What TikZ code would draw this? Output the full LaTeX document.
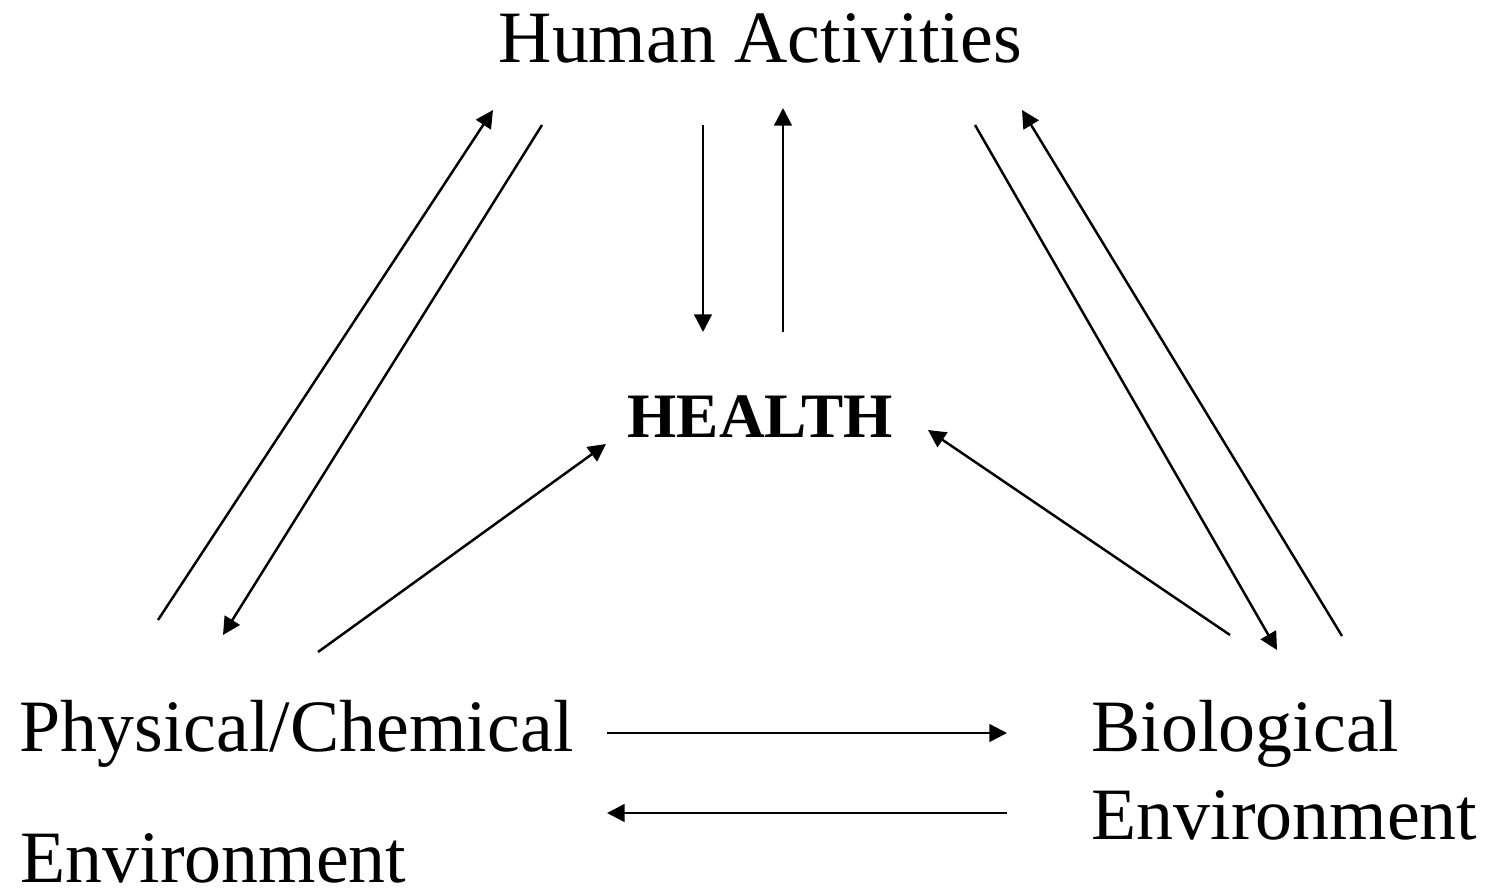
\documentclass[tikz,border=0pt]{standalone}
\usepackage{fontspec}
\setmainfont{Liberation Serif}
\usetikzlibrary{arrows.meta}

\begin{document}
\begin{tikzpicture}[x=0.01cm, y=-0.01cm, >={Triangle[length=5pt,width=5pt]},
  word/.style={anchor=base west, inner sep=0pt, font=\fontsize{21}{25}\selectfont},
  flow/.style={->, line width=0.7pt}]
\useasboundingbox (0,0) rectangle (1488,891);

\node[word] (human) at (498,63) {Human Activities};
\node[word, font=\fontsize{18}{21}\selectfont\bfseries] (health) at (627,437) {HEALTH};
\node[word] (physical) at (19,751) {Physical/Chemical};
\node[word] (physenv) at (20,882) {Environment};
\node[word] (biological) at (1091,751) {Biological};
\node[word] (bioenv) at (1091,839) {Environment};

% ends of the arrows
\coordinate (pa) at (158,620);  \coordinate (ha) at (493,110);
\coordinate (hb) at (542,125);  \coordinate (pb) at (223,635);
\coordinate (hc) at (703,125);  \coordinate (ec) at (703,332);
\coordinate (ed) at (783,332);  \coordinate (hd) at (783,108);
\coordinate (pe) at (318,652);  \coordinate (ee) at (606,444);
\coordinate (bf) at (1230,635); \coordinate (ef) at (928,430);
\coordinate (hg) at (975,125);  \coordinate (bg) at (1277,650);
\coordinate (bh) at (1342,636); \coordinate (hh) at (1022,110);
\coordinate (pi) at (607,733);  \coordinate (bi) at (1007,733);
\coordinate (bj) at (1007,813); \coordinate (pj) at (607,813);

\draw[flow] (pa) -- (ha);
\draw[flow] (hb) -- (pb);
\draw[flow] (hc) -- (ec);
\draw[flow] (ed) -- (hd);
\draw[flow] (pe) -- (ee);
\draw[flow] (bf) -- (ef);
\draw[flow] (hg) -- (bg);
\draw[flow] (bh) -- (hh);
\draw[flow] (pi) -- (bi);
\draw[flow] (bj) -- (pj);
\end{tikzpicture}
\end{document}
